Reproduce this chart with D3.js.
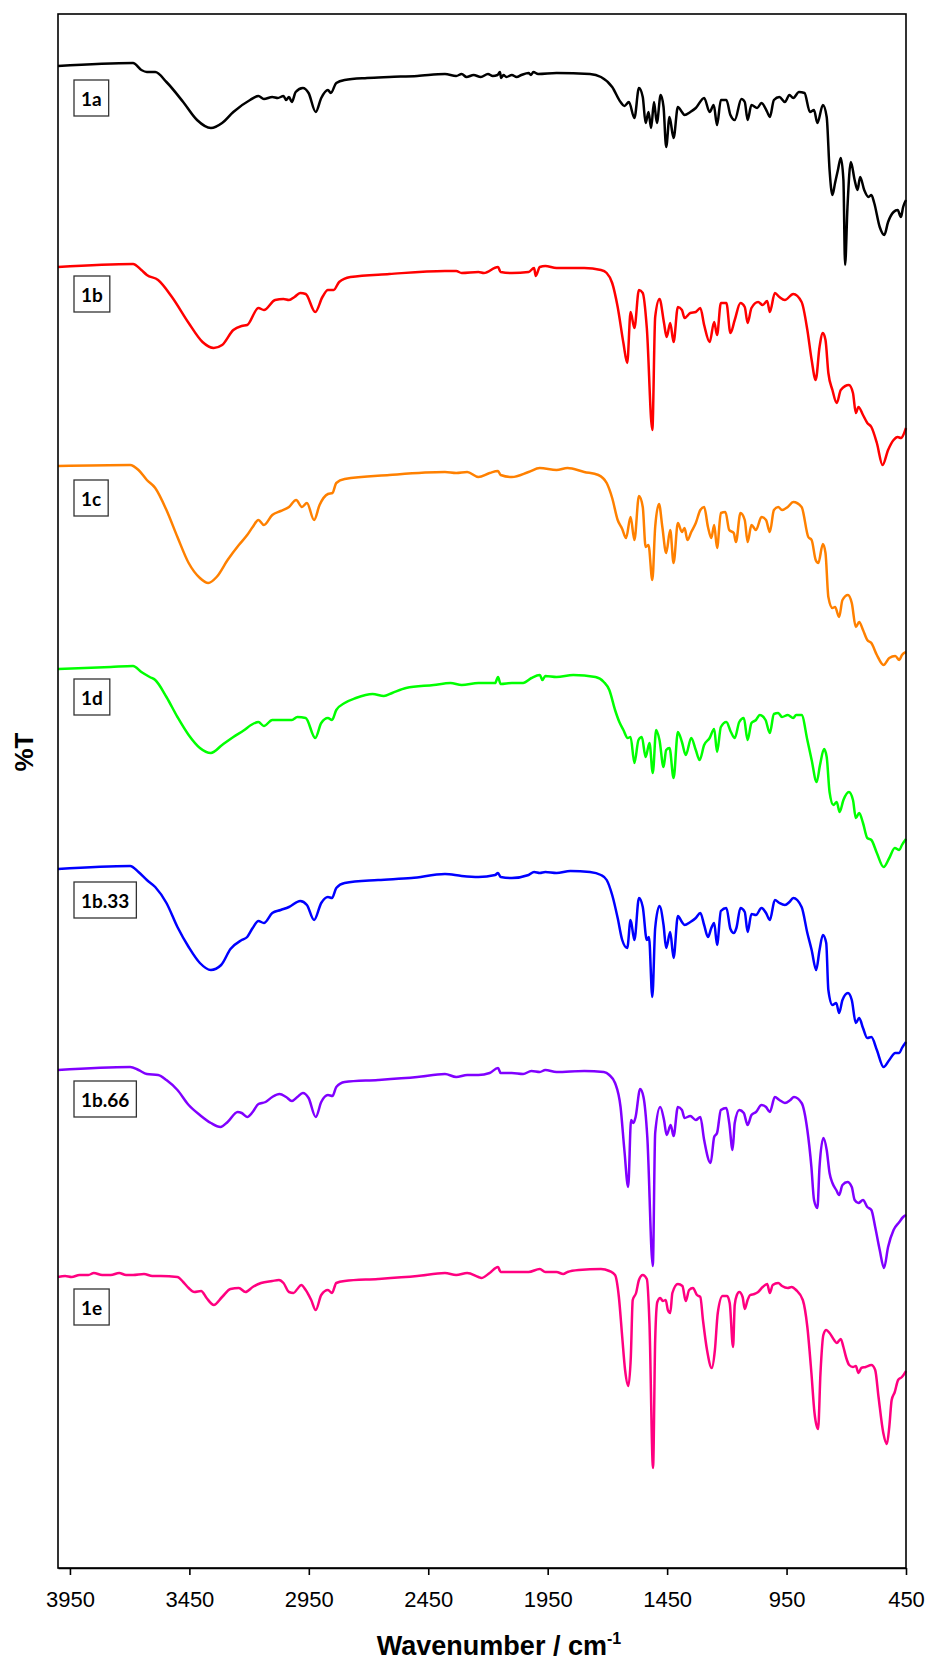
<!DOCTYPE html>
<html>
<head>
<meta charset="utf-8">
<script src="https://cdn.jsdelivr.net/npm/d3@7"></script>
<style>
body { margin: 0; background: #fff; }
.tick text { font-family: "Liberation Sans", Arial, sans-serif; font-size: 22px; fill: #000; }
.axisTitle { font-family: "Liberation Sans", Arial, sans-serif; font-weight: bold; }
.tag { font-family: Lato, "Noto Sans", sans-serif; font-weight: bold; font-size: 19px; }
</style>
</head>
<body>
<div id="drawing"></div>
<script>
"use strict"

/**** Configuration ****/
let svgWidth = 931
let svgHeight = 1665

let leftEdge = 58
let rightEdge = 906
let topEdge = 14
let bottomEdge = 1568

/**** DATA ****/
// x ticks (cm-1)
let xTicks = [3950, 3450, 2950, 2450, 1950, 1450, 950, 450]

// sample names, colours, vertical offsets (%T) and label heights (%T, local)
let names = ["1a", "1b", "1c", "1d", "1b.33", "1b.66", "1e"]
let colors = ["#000000", "#ff0000", "#ff8000", "#00ff00", "#0000ff", "#8000ff", "#ff0080"]
let offsets = [120, 100, 80, 60, 40, 20, 0]
let labelT = [27.0, 27.4, 27.0, 27.1, 26.8, 26.9, 26.1]

// spectra: [wavenumber, %T]
let spec1a = [[4000,30.2],[3686,30.5],[3651,29.8],[3628,29.6],[3593,29.6],[3546,28.6],[3476,26.6],[3418,24.8],[3360,24.0],[3313,24.5],[3266,25.6],[3196,26.8],[3161,27.2],[3138,26.9],[3103,27.1],[3080,27.0],[3056,27.2],[3045,26.8],[3033,27.1],[3021,26.6],[3005,27.6],[2975,28.0],[2951,27.5],[2921,25.6],[2898,27.0],[2870,27.8],[2858,27.5],[2835,28.5],[2800,28.8],[2706,29.0],[2613,29.1],[2496,29.2],[2380,29.4],[2333,29.2],[2310,29.4],[2290,29.1],[2260,29.3],[2230,29.1],[2200,29.4],[2180,29.2],[2160,29.3],[2150,29.6],[2145,29.0],[2135,29.3],[2123,29.1],[2100,29.3],[2080,29.1],[2060,29.3],[2030,29.5],[2020,29.3],[2010,29.6],[1990,29.4],[1913,29.5],[1773,29.4],[1727,29.1],[1680,28.1],[1645,26.6],[1629,26.2],[1610,26.6],[1587,25.0],[1568,28.0],[1552,27.1],[1540,24.5],[1528,25.6],[1517,24.0],[1505,26.6],[1493,24.5],[1477,27.3],[1465,26.1],[1454,22.1],[1440,25.1],[1423,23.0],[1405,26.1],[1388,25.6],[1377,25.3],[1353,25.6],[1330,26.0],[1295,27.0],[1272,25.6],[1255,26.3],[1241,24.3],[1225,26.8],[1202,26.8],[1185,25.3],[1167,24.8],[1139,26.9],[1125,26.6],[1113,24.8],[1097,26.3],[1073,26.0],[1055,26.5],[1031,25.6],[1020,25.1],[1003,26.8],[980,27.1],[957,26.6],[938,27.3],[922,27.0],[898,27.6],[875,27.5],[852,25.6],[835,25.8],[821,24.5],[798,26.3],[782,25.1],[770,19.8],[758,17.3],[747,18.5],[735,19.8],[723,21.0],[712,18.8],[705,10.3],[695,16.1],[681,20.6],[665,18.8],[653,17.8],[642,19.1],[625,17.8],[607,17.1],[595,17.3],[583,16.5],[560,14.1],[541,13.3],[525,14.6],[502,15.6],[485,15.8],[471,15.1],[462,16.1],[450,16.8]]

let spec1b = [[4000,30.1],[3686,30.4],[3651,29.8],[3628,29.3],[3581,28.8],[3523,27.1],[3453,24.5],[3395,22.6],[3348,22.0],[3313,22.3],[3266,23.8],[3231,24.2],[3208,24.3],[3161,26.0],[3138,25.8],[3091,26.8],[3056,26.9],[3033,26.8],[3010,27.1],[2986,27.5],[2963,27.4],[2923,25.6],[2893,27.1],[2870,27.8],[2846,27.8],[2823,28.6],[2776,29.1],[2613,29.4],[2380,29.7],[2333,29.7],[2310,29.5],[2240,29.6],[2217,29.5],[2158,30.1],[2147,29.6],[2100,29.5],[2030,29.6],[2007,30.0],[2000,29.2],[1983,30.1],[1960,30.2],[1913,30.0],[1797,30.0],[1727,29.8],[1703,29.5],[1680,28.5],[1657,26.1],[1633,22.5],[1617,20.5],[1603,25.6],[1587,24.0],[1568,27.8],[1552,27.5],[1535,24.0],[1512,13.8],[1500,25.1],[1482,26.9],[1463,24.5],[1452,23.1],[1437,24.5],[1423,22.6],[1405,26.1],[1388,25.8],[1377,25.0],[1353,25.5],[1330,25.6],[1311,26.0],[1295,24.3],[1272,22.6],[1253,24.6],[1241,23.3],[1225,26.5],[1202,26.5],[1185,23.5],[1167,24.8],[1143,26.5],[1125,26.1],[1113,24.5],[1097,26.0],[1069,26.6],[1050,26.3],[1031,26.7],[1020,25.6],[999,27.5],[980,27.1],[957,26.8],[922,27.4],[887,26.6],[863,23.8],[845,20.8],[828,18.8],[812,22.1],[798,23.5],[787,22.8],[775,19.5],[758,17.8],[740,16.5],[723,17.8],[689,18.3],[672,17.5],[660,15.5],[649,16.1],[630,15.3],[612,14.5],[595,14.1],[572,12.5],[548,10.3],[525,11.8],[502,12.8],[485,13.1],[471,13.0],[450,14.0]]

let spec1c = [[4000,30.2],[3698,30.3],[3663,29.8],[3628,28.8],[3593,28.0],[3546,25.8],[3500,23.1],[3453,20.5],[3406,19.0],[3371,18.5],[3336,19.1],[3290,20.8],[3243,22.3],[3208,23.3],[3185,24.1],[3161,24.8],[3138,24.3],[3103,25.3],[3068,25.7],[3033,26.1],[3003,26.8],[2979,26.1],[2958,26.5],[2928,24.8],[2905,26.3],[2870,27.4],[2851,27.5],[2835,28.5],[2800,28.9],[2613,29.3],[2380,29.6],[2333,29.5],[2287,29.6],[2240,29.1],[2193,29.5],[2158,29.7],[2147,29.3],[2100,29.1],[2030,29.6],[1983,30.0],[1913,29.8],[1867,30.0],[1797,29.6],[1738,29.3],[1703,28.5],[1680,27.0],[1657,24.8],[1638,23.9],[1622,23.0],[1603,25.1],[1587,22.8],[1568,27.2],[1552,26.1],[1540,22.1],[1528,22.3],[1512,18.8],[1500,24.1],[1484,26.4],[1470,24.1],[1454,21.5],[1437,23.8],[1423,20.5],[1405,24.5],[1388,23.6],[1377,24.0],[1365,22.8],[1349,23.6],[1330,24.5],[1311,25.8],[1295,26.1],[1279,24.1],[1265,23.0],[1253,24.3],[1241,22.0],[1225,25.5],[1206,25.6],[1190,23.8],[1171,23.5],[1162,22.6],[1143,25.5],[1125,24.8],[1113,22.6],[1097,24.3],[1078,23.8],[1055,25.1],[1036,24.8],[1020,23.6],[1003,25.8],[985,26.1],[969,25.8],[945,26.1],[922,26.6],[887,26.1],[859,23.1],[845,22.8],[828,20.8],[817,20.5],[798,22.4],[787,21.5],[775,17.1],[758,16.0],[747,16.1],[730,15.1],[716,16.8],[693,17.3],[677,16.5],[660,14.1],[646,14.6],[630,13.8],[612,12.8],[595,12.5],[572,11.3],[544,10.3],[520,11.0],[495,11.2],[478,10.8],[467,11.3],[450,11.6]]

let spec1d = [[4000,29.9],[3779,30.1],[3686,30.2],[3651,29.6],[3616,29.1],[3593,28.8],[3546,27.1],[3500,25.1],[3453,23.3],[3406,22.0],[3360,21.5],[3313,22.3],[3266,23.1],[3220,23.8],[3192,24.3],[3161,24.6],[3138,24.2],[3103,24.8],[3056,24.8],[3021,24.8],[2998,25.1],[2963,25.0],[2923,23.0],[2898,24.5],[2870,25.0],[2853,24.8],[2835,25.8],[2800,26.5],[2753,27.0],[2683,27.4],[2636,27.2],[2601,27.5],[2543,28.0],[2427,28.3],[2357,28.5],[2310,28.3],[2240,28.5],[2170,28.5],[2158,29.1],[2147,28.4],[2100,28.5],[2053,28.5],[2018,29.0],[1983,29.3],[1972,28.8],[1960,29.2],[1913,29.1],[1843,29.3],[1750,29.1],[1715,28.6],[1692,27.8],[1668,25.8],[1650,24.6],[1633,23.8],[1615,23.0],[1603,23.1],[1587,20.5],[1570,22.8],[1556,23.1],[1540,21.1],[1524,22.5],[1510,19.5],[1496,23.8],[1482,22.8],[1465,20.1],[1454,21.8],[1440,22.0],[1423,19.0],[1405,23.6],[1388,22.6],[1372,21.3],[1349,23.0],[1330,21.8],[1314,20.8],[1295,22.3],[1272,23.0],[1253,23.9],[1241,21.6],[1225,24.1],[1202,24.6],[1183,23.6],[1167,23.0],[1148,24.6],[1129,25.0],[1113,22.8],[1097,24.5],[1078,24.8],[1062,25.3],[1038,24.8],[1020,23.5],[1003,25.4],[985,25.5],[969,25.1],[945,25.3],[922,25.0],[910,25.3],[887,25.3],[863,22.8],[845,20.8],[824,18.6],[810,20.3],[793,21.9],[782,21.1],[770,17.6],[754,16.3],[740,16.6],[728,15.6],[712,16.8],[689,17.6],[672,16.8],[660,15.0],[646,15.5],[630,14.5],[612,13.0],[595,12.8],[572,11.5],[544,10.1],[520,11.0],[497,12.0],[478,11.8],[467,12.3],[450,12.9]]

let spec1b33 = [[4000,29.9],[3698,30.2],[3663,29.6],[3628,28.8],[3593,28.1],[3546,26.5],[3500,24.1],[3453,22.1],[3406,20.5],[3360,19.8],[3317,20.3],[3278,21.9],[3231,22.8],[3208,23.1],[3185,24.0],[3161,24.7],[3138,24.5],[3103,25.5],[3068,25.8],[3033,26.1],[2986,26.7],[2958,26.3],[2928,24.8],[2898,26.5],[2870,27.1],[2853,27.0],[2835,28.0],[2800,28.5],[2660,28.8],[2520,29.0],[2380,29.4],[2310,29.2],[2240,29.1],[2170,29.3],[2158,29.5],[2147,29.1],[2100,29.0],[2030,29.3],[2007,29.6],[1983,29.5],[1960,29.6],[1913,29.5],[1855,29.7],[1773,29.6],[1727,29.3],[1703,28.8],[1680,27.3],[1657,25.0],[1638,22.8],[1617,22.0],[1603,24.8],[1587,22.8],[1568,27.0],[1552,26.1],[1535,22.8],[1526,23.1],[1512,17.1],[1500,24.0],[1482,26.2],[1465,24.3],[1454,22.0],[1437,23.6],[1423,21.0],[1405,25.2],[1388,24.6],[1377,24.3],[1353,24.6],[1330,25.0],[1311,25.5],[1295,24.3],[1279,23.1],[1265,24.0],[1253,24.5],[1241,22.3],[1225,25.7],[1202,26.0],[1185,23.9],[1171,23.5],[1160,24.0],[1143,26.0],[1125,25.6],[1113,23.6],[1097,25.4],[1078,25.3],[1055,26.0],[1036,25.5],[1020,24.8],[999,26.8],[980,26.5],[957,26.3],[938,26.6],[922,27.0],[887,26.1],[863,23.5],[845,21.8],[826,19.8],[812,21.8],[798,23.3],[784,22.5],[775,17.8],[758,16.3],[742,16.5],[730,15.5],[716,16.8],[693,17.5],[677,16.8],[660,14.5],[646,15.0],[630,14.0],[612,13.0],[595,13.1],[572,11.8],[544,10.1],[520,10.8],[495,11.5],[478,11.5],[467,12.0],[450,12.6]]

let spec1b66 = [[4000,29.8],[3698,30.1],[3663,29.8],[3628,29.4],[3581,29.3],[3546,28.8],[3500,27.8],[3453,26.3],[3406,25.3],[3360,24.5],[3320,24.1],[3290,24.6],[3248,25.6],[3231,25.5],[3208,25.1],[3185,25.6],[3161,26.4],[3131,26.6],[3103,27.1],[3073,27.4],[3045,27.1],[3021,26.7],[2998,27.1],[2975,27.5],[2951,27.0],[2921,25.1],[2898,26.6],[2870,27.3],[2851,27.2],[2835,28.1],[2800,28.6],[2660,28.8],[2496,29.1],[2380,29.4],[2333,29.1],[2287,29.3],[2240,29.3],[2193,29.5],[2158,30.0],[2147,29.5],[2100,29.5],[2053,29.4],[2018,29.7],[1983,29.6],[1960,29.8],[1913,29.6],[1797,29.7],[1715,29.6],[1692,29.3],[1668,28.5],[1645,26.1],[1629,21.8],[1613,18.1],[1601,24.8],[1591,24.5],[1582,25.1],[1563,27.9],[1549,27.1],[1533,23.1],[1510,10.2],[1500,23.5],[1479,26.1],[1463,24.8],[1452,23.3],[1435,24.3],[1423,23.2],[1405,26.1],[1388,25.8],[1377,25.0],[1353,25.2],[1330,24.8],[1311,25.1],[1295,22.8],[1268,20.5],[1253,23.1],[1241,23.5],[1225,25.8],[1202,26.0],[1190,24.5],[1176,21.8],[1167,24.5],[1148,25.8],[1129,25.5],[1113,24.3],[1097,25.3],[1078,25.6],[1055,26.3],[1036,26.1],[1020,25.6],[999,27.1],[980,26.8],[957,26.5],[934,26.8],[919,27.1],[887,26.5],[863,23.8],[846,20.1],[835,16.8],[821,16.0],[812,20.1],[796,23.0],[782,21.8],[770,19.5],[758,18.5],[742,17.8],[730,17.3],[716,18.3],[695,18.6],[677,18.1],[665,16.8],[649,16.5],[630,16.8],[612,16.1],[595,15.8],[579,14.1],[560,11.8],[542,10.0],[525,12.1],[502,13.8],[478,14.6],[462,15.1],[450,15.3]]

let spec1e = [[4000,29.1],[3970,29.2],[3943,29.1],[3910,29.3],[3873,29.3],[3850,29.5],[3815,29.3],[3779,29.3],[3744,29.5],[3715,29.3],[3686,29.3],[3640,29.4],[3605,29.2],[3570,29.2],[3500,29.1],[3476,28.6],[3453,28.0],[3429,27.6],[3401,27.7],[3378,27.0],[3348,26.3],[3313,27.1],[3278,27.9],[3243,28.0],[3215,27.6],[3185,28.1],[3150,28.5],[3103,28.7],[3075,28.8],[3056,28.5],[3033,27.6],[3014,27.5],[2998,27.9],[2982,28.3],[2963,27.8],[2940,26.8],[2921,25.8],[2898,27.3],[2870,27.8],[2853,27.5],[2835,28.5],[2800,28.7],[2660,28.9],[2496,29.2],[2380,29.5],[2333,29.3],[2287,29.5],[2240,29.1],[2228,29.0],[2193,29.5],[2158,30.1],[2147,29.6],[2100,29.6],[2030,29.6],[1983,29.9],[1960,29.6],[1913,29.6],[1885,29.4],[1867,29.6],[1820,29.8],[1727,29.9],[1692,29.7],[1668,29.3],[1652,27.1],[1638,23.1],[1626,19.8],[1612,18.2],[1602,21.1],[1594,26.8],[1580,27.5],[1568,28.8],[1552,29.3],[1535,28.9],[1524,24.5],[1509,10.0],[1500,22.8],[1491,26.6],[1479,27.0],[1468,26.7],[1456,26.8],[1447,25.8],[1437,25.5],[1428,27.5],[1405,28.4],[1386,28.2],[1372,26.7],[1358,27.8],[1342,28.0],[1325,27.3],[1311,27.1],[1300,24.8],[1283,21.8],[1263,20.0],[1250,21.8],[1238,25.5],[1218,27.2],[1199,27.2],[1188,26.5],[1174,22.1],[1167,26.3],[1158,27.3],[1148,27.6],[1134,27.1],[1125,25.9],[1113,26.8],[1102,27.3],[1085,27.4],[1069,27.6],[1050,28.1],[1031,28.4],[1020,27.5],[1008,28.3],[985,28.5],[969,28.2],[945,28.0],[929,28.1],[910,27.8],[882,26.8],[863,24.1],[846,19.5],[833,15.5],[818,13.9],[808,19.5],[796,23.3],[784,23.8],[770,23.5],[751,22.8],[740,22.5],[723,22.9],[712,22.1],[700,21.0],[688,20.3],[672,20.1],[660,20.2],[649,19.5],[637,20.0],[619,20.1],[595,20.3],[579,19.8],[565,17.1],[545,13.5],[530,12.4],[520,14.1],[510,16.8],[497,17.6],[483,18.8],[467,19.1],[450,19.7]]

let spectra = [spec1a, spec1b, spec1c, spec1d, spec1b33, spec1b66, spec1e]

/**** CANVAS ****/
let svg = d3.select("#drawing")
.append("svg")
.attr("width", svgWidth)
.attr("height", svgHeight)

/**** SCALES ****/
let xScale = d3.scaleLinear()
.domain([4000, 450])
.range([leftEdge, rightEdge])

let yScale = d3.scaleLinear()
.domain([0, 155.4])
.range([bottomEdge, topEdge])

/**** SPECTRA ****/
let line = d3.line()
.x(d => xScale(d[0]))
.y(d => yScale(d[1]))
.curve(d3.curveMonotoneX)

spectra.forEach(function(spec, i){
    svg.append("path")
    .datum(spec.map(p => [p[0], p[1] + offsets[i]]))
    .attr("fill", "none")
    .attr("stroke", colors[i])
    .attr("stroke-width", 2.5)
    .attr("stroke-linejoin", "round")
    .attr("d", line)
})

/**** FRAME + AXIS ****/
svg.append("rect")
.attr("x", leftEdge)
.attr("y", topEdge)
.attr("width", rightEdge - leftEdge)
.attr("height", bottomEdge - topEdge)
.attr("fill", "none")
.attr("stroke", "black")
.attr("stroke-width", 1.6)

let xAxis = svg.append("g")
.attr("transform", `translate(0,${bottomEdge})`)
.call(d3.axisBottom(xScale).tickValues(xTicks).tickSize(7).tickSizeOuter(0).tickPadding(16).tickFormat(d3.format("d")))

xAxis.select(".domain").attr("stroke-width", 1.6)
xAxis.selectAll(".tick line").attr("stroke-width", 1.6)

/**** AXIS TITLES ****/
let xTitle = svg.append("text")
.attr("class", "axisTitle")
.attr("x", 499)
.attr("y", 1655)
.style("font-size", "27px")
.style("text-anchor", "middle")

xTitle.append("tspan").text("Wavenumber / cm")
xTitle.append("tspan")
.attr("dy", -11)
.style("font-size", "16px")
.text("-1")

svg.append("text")
.attr("class", "axisTitle")
.attr("transform", "translate(33,752) rotate(-90)")
.style("font-size", "26px")
.style("text-anchor", "middle")
.text("%T")

/**** SAMPLE TAGS ****/
names.forEach(function(name, i){
    let cy = yScale(labelT[i] + offsets[i])
    let tag = svg.append("g")
    let box = tag.append("rect")
    let txt = tag.append("text")
    .attr("class", "tag")
    .attr("y", cy)
    .attr("dominant-baseline", "central")
    .text(name)
    let w = txt.node().getComputedTextLength() + 14
    box.attr("x", 74)
    .attr("y", cy - 18)
    .attr("width", w)
    .attr("height", 36)
    .attr("fill", "white")
    .attr("stroke", "#333")
    .attr("stroke-width", 1.3)
    txt.attr("x", 74 + w / 2)
    .style("text-anchor", "middle")
})
</script>
</body>
</html>
